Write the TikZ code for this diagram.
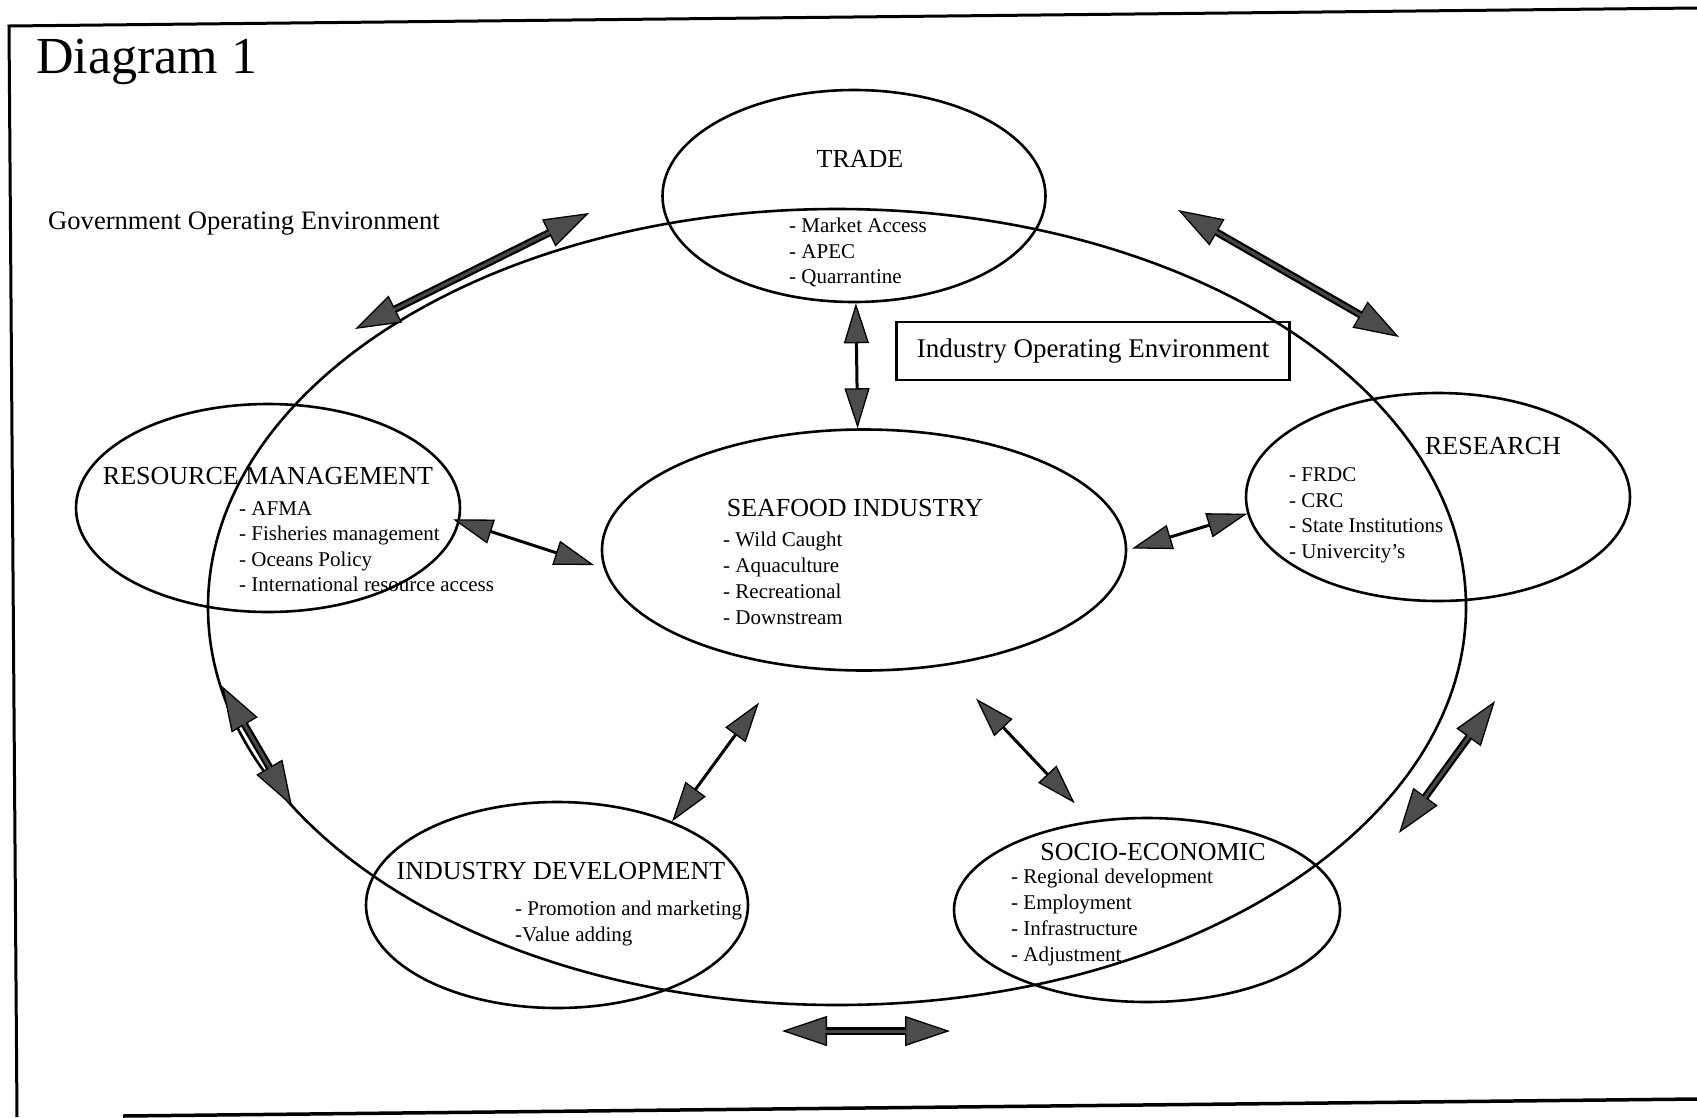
\documentclass[tikz,border=0pt]{standalone}
\usepackage{fontspec}
\setmainfont{Liberation Serif}
\usetikzlibrary{arrows.meta,shapes.geometric}
\begin{document}
\begin{tikzpicture}[x=1pt,y=-1pt,
  bub/.style={draw, ellipse, line width=2.6pt, inner sep=0pt},
  ttl/.style={anchor=base, inner sep=0pt, font=\fontsize{26}{30}\selectfont},
  itm/.style={anchor=base west, inner sep=0pt, font=\fontsize{21}{25}\selectfont},
  hd/.tip={Triangle[length=40pt,width=25pt,fill=black!70,line width=1.3pt]},
  bighd/.tip={Triangle[length=45pt,width=30pt,fill=black!70,line width=1.3pt]},
  inarr/.style={hd-hd, line width=3pt},
  outarr/.style={bighd-bighd, line width=7.5pt},
  outcore/.style={line width=3pt, black!72, shorten >=43pt, shorten <=43pt}]
\useasboundingbox (0,0) rectangle (1697,1117);

% frame
\draw[line width=3pt] (1697,8) -- (9,26) -- (17,1117);
\draw[line width=3.5pt] (123,1116) -- (1697,1099);

% headings
\node[anchor=base west, inner sep=0pt, font=\fontsize{52}{60}\selectfont] (title) at (36,73) {Diagram 1};
\node[anchor=base west, inner sep=0pt, font=\fontsize{26.6}{30}\selectfont] (gov) at (48,229) {Government Operating Environment};

% big environment ellipse
\node[bub, minimum width=1258pt, minimum height=796pt] (env) at (837,607) {};

% box
\node[draw, line width=2.2pt, minimum width=393pt, minimum height=58pt, inner sep=0pt,
      font=\fontsize{27}{30}\selectfont] (ioe) at (1093,351) {Industry Operating Environment};

% bubbles
\node[bub, minimum width=383pt, minimum height=212pt] (trade) at (854,196) {};
\node[bub, minimum width=384pt, minimum height=208pt] (rm) at (268,508) {};
\node[bub, minimum width=384pt, minimum height=208pt] (res) at (1438,497) {};
\node[bub, minimum width=382pt, minimum height=206pt] (idv) at (557,905) {};
\node[bub, minimum width=386pt, minimum height=184pt] (se) at (1147,910) {};
\node[bub, minimum width=524pt, minimum height=241pt] (sea) at (864,550) {};

% TRADE text
\node[ttl] (tradeT) at (860,167) {TRADE};
\node[itm] (tr1) at (789,232) {- Market Access};
\node[itm] (tr2) at (789,258) {- APEC};
\node[itm] (tr3) at (789,283) {- Quarrantine};

% RESOURCE MANAGEMENT text
\node[ttl] (rmT) at (268,484) {RESOURCE MANAGEMENT};
\node[itm] (rm1) at (239,515) {- AFMA};
\node[itm] (rm2) at (239,540) {- Fisheries management};
\node[itm] (rm3) at (239,566) {- Oceans Policy};
\node[itm] (rm4) at (239,591) {- International resource access};

% SEAFOOD INDUSTRY text
\node[ttl] (seaT) at (855,516) {SEAFOOD INDUSTRY};
\node[itm] (sea1) at (723,546) {- Wild Caught};
\node[itm] (sea2) at (723,572) {- Aquaculture};
\node[itm] (sea3) at (723,598) {- Recreational};
\node[itm] (sea4) at (723,624) {- Downstream};

% RESEARCH text
\node[ttl] (resT) at (1493,454) {RESEARCH};
\node[itm] (res1) at (1289,481) {- FRDC};
\node[itm] (res2) at (1289,507) {- CRC};
\node[itm] (res3) at (1289,532) {- State Institutions};
\node[itm] (res4) at (1289,558) {- Univercity’s};

% INDUSTRY DEVELOPMENT text
\node[ttl] (idT) at (561,879) {INDUSTRY DEVELOPMENT};
\node[itm] (id1) at (515,915) {- Promotion and marketing};
\node[itm] (id2) at (515,941) {-Value adding};

% SOCIO-ECONOMIC text
\node[ttl] (seT) at (1153,860) {SOCIO-ECONOMIC};
\node[itm] (se1) at (1011,883) {- Regional development};
\node[itm] (se2) at (1011,909) {- Employment};
\node[itm] (se3) at (1011,935) {- Infrastructure};
\node[itm] (se4) at (1011,961) {- Adjustment};

% inner connectors
\draw[inarr] (trade.-89) -- (sea.93);
\draw[inarr, shorten <=-7pt, shorten >=10pt] (rm.-4.85) -- (sea.184.4);
\draw[inarr, shorten <=5pt] (sea.0) -- (res.185.5);
\draw[inarr, shorten <=45pt] (sea.236.4) -- (idv.36.8);
\draw[inarr, shorten <=45pt, shorten >=24pt] (sea.-55.4) -- (se.122.1);

% outer free arrows
\coordinate (a1s) at (355,329);  \coordinate (a1e) at (589,213);
\coordinate (a2s) at (1178,210); \coordinate (a2e) at (1399,337);
\coordinate (a8s) at (222,686);  \coordinate (a8e) at (292,806);
\coordinate (a9s) at (1495,701); \coordinate (a9e) at (1399,833);
\coordinate (a10s) at (782,1031); \coordinate (a10e) at (950,1031);
\foreach \s/\e in {a1s/a1e, a2s/a2e, a8s/a8e, a9s/a9e, a10s/a10e}{
  \draw[outarr] (\s) -- (\e);
  \draw[outcore] (\s) -- (\e);
}
\end{tikzpicture}
\end{document}
